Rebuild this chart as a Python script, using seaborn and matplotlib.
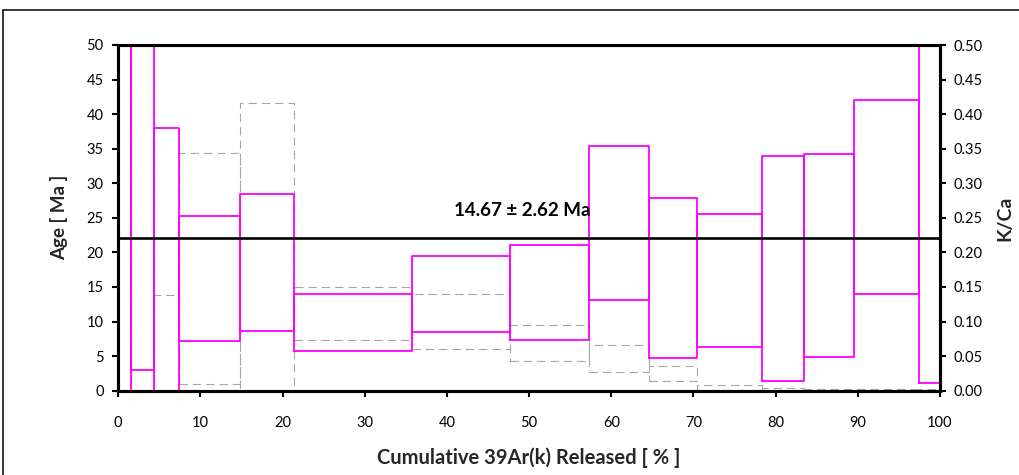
import numpy as np
import pandas as pd
import matplotlib
matplotlib.use("Agg")
import matplotlib.pyplot as plt
from matplotlib.lines import Line2D
import seaborn as sns

# Step-heating data: cumulative 39Ar(k) released (%) at each step boundary
step_edges = [0, 1.56, 4.36, 7.40, 14.82, 21.42, 35.71, 47.66, 57.24,
              64.61, 70.45, 78.28, 83.43, 89.55, 97.46, 100]
# Apparent age envelope (Ma) for each step: lower / upper bound
age_low = [-12.0, 3.0, -4.0, 7.2, 8.7, 5.8, 8.55, 7.3, 13.1,
           4.75, 6.25, 1.4, 4.9, 14.0, 1.07]
age_high = [75.0, 62.0, 38.0, 25.2, 28.5, 14.0, 19.5, 21.1, 35.4,
            27.9, 25.5, 33.95, 34.25, 42.05, 58.0]
# K/Ca envelope for each step: lower / upper bound
kca_low = [-0.05, -0.05, -0.05, 0.009, -0.01, 0.073, 0.061, 0.043, 0.027,
           0.0145, 0.001, 0.0012, 0.001, 0.0008, 0.0005]
kca_high = [0.9, 0.9, 0.139, 0.344, 0.416, 0.150, 0.140, 0.095, 0.066,
            0.036, 0.008, 0.0035, 0.003, 0.0025, 0.002]

plateau_line = 22.05
plateau_label = "14.67 \u00b1 2.62 Ma"

x_ticks = list(range(0, 101, 10))
age_ticks = list(range(0, 51, 5))
kca_ticks = [i * 0.05 for i in range(11)]


def box_outlines(edges, lows, highs):
    """Closed rectangle outlines, one per heating step, in long form."""
    rows = []
    for i, (lo, hi) in enumerate(zip(lows, highs)):
        x0, x1 = edges[i], edges[i + 1]
        for order, (x, y) in enumerate([(x0, lo), (x1, lo), (x1, hi), (x0, hi), (x0, lo)]):
            rows.append({"step": i, "order": order, "x": x, "y": y})
    return pd.DataFrame(rows)


age_df = box_outlines(step_edges, age_low, age_high)
kca_df = box_outlines(step_edges, kca_low, kca_high)

sns.set_theme(style="white")
plt.rcParams["font.family"] = ["Lato", "DejaVu Sans"]

fig = plt.figure(figsize=(10.2, 4.75), dpi=100)
ax = fig.add_axes([118.2 / 1020, 84.3 / 475, (940 - 118.2) / 1020, (390.7 - 45) / 475])
ax2 = ax.twinx()

# K/Ca boxes on the secondary axis, drawn underneath the age boxes
ax2.set_facecolor("#e8e8e8")
ax.set_zorder(ax2.get_zorder() + 1)
ax.patch.set_visible(False)

sns.lineplot(data=kca_df, x="x", y="y", units="step", estimator=None, sort=False,
             ax=ax2, color="#a6a6a6", lw=0.8, dashes=False, legend=False)
for ln in ax2.get_lines():
    ln.set_dashes((7.5, 4.5))

sns.lineplot(data=age_df, x="x", y="y", units="step", estimator=None, sort=False,
             ax=ax, color="#ff00ff", lw=1.3, legend=False)

ax.axhline(plateau_line, color="black", lw=1.9, zorder=5)
ax.text(49.2, 26.1, plateau_label, ha="center", va="center",
        fontsize=13.5, fontweight="bold", color="black")

ax.set_xlim(0, 100)
ax.set_ylim(0, 50)
ax2.set_ylim(0, 0.5)
ax.set_xticks(x_ticks)
ax.set_yticks(age_ticks)
ax2.set_yticks(kca_ticks)
ax2.set_yticklabels([f"{v:.2f}" for v in kca_ticks])

ax.set_xlabel("Cumulative 39Ar(k) Released [ % ]", fontsize=14.5, fontweight="bold",
              labelpad=12)
ax.set_ylabel("Age [ Ma ]", fontsize=13.5, fontweight="bold", labelpad=13)
ax2.set_ylabel("K/Ca", fontsize=14, fontweight="bold", labelpad=10)

for a in (ax, ax2):
    for sp in a.spines.values():
        sp.set_visible(True)
        sp.set_color("black")
        sp.set_linewidth(2.2)
ax.tick_params(axis="x", direction="out", length=4.5, width=1.5, pad=14,
               labelsize=10.5, colors="black", bottom=True)
ax.tick_params(axis="y", direction="out", length=4.5, width=1.5, pad=6,
               labelsize=10.5, colors="black", left=True)
ax2.tick_params(axis="y", direction="out", length=4.5, width=1.5, pad=5,
                labelsize=10.5, colors="black", right=True)

# Outer frame around the chart
y_top = 1 - 10 / 475
x_left = 3 / 1020
fig.add_artist(Line2D([x_left, 1.0], [y_top, y_top], transform=fig.transFigure,
                      color="black", lw=1.1))
fig.add_artist(Line2D([x_left, x_left], [0.0, y_top], transform=fig.transFigure,
                      color="black", lw=1.1))

fig.savefig("out.png", dpi=100)
